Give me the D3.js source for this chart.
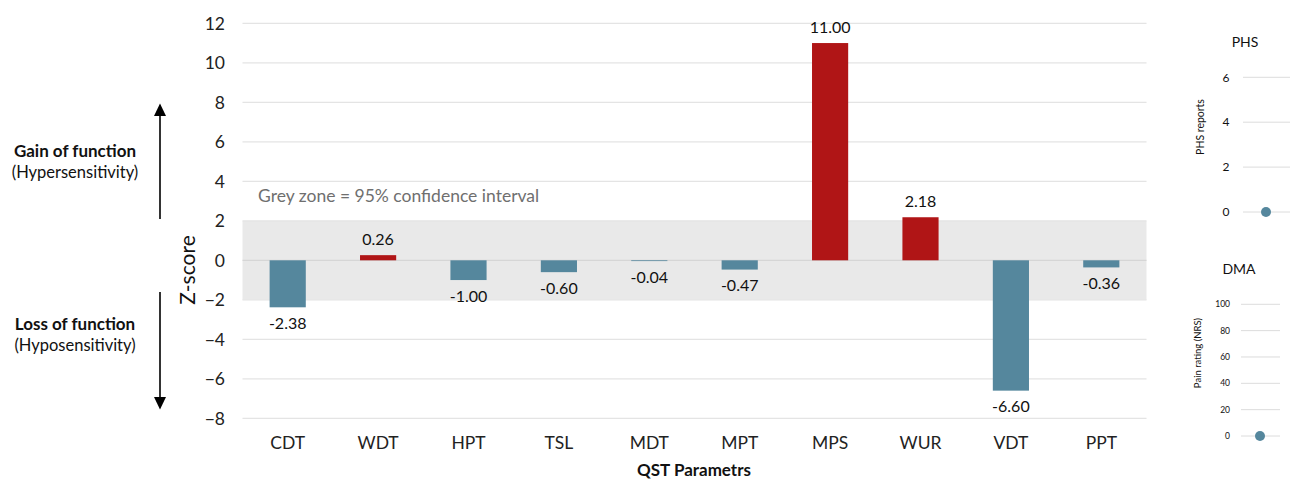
<!DOCTYPE html>
<html>
<head>
<meta charset="utf-8">
<script src="https://cdn.jsdelivr.net/npm/d3@7"></script>
<style>
  html, body { margin: 0; padding: 0; background: #fff; }
  svg { display: block; }
  text { font-family: Lato, "Open Sans", sans-serif; }
</style>
</head>
<body>
<svg id="chart" width="1295" height="483"></svg>
<script>
// QST z-scores per parameter
const categories = ["CDT", "WDT", "HPT", "TSL", "MDT", "MPT", "MPS", "WUR", "VDT", "PPT"];
const zScores = [-2.38, 0.26, -1.00, -0.60, -0.04, -0.47, 11.00, 2.18, -6.60, -0.36];
const yTicks = [-8, -6, -4, -2, 0, 2, 4, 6, 8, 10, 12];
const confidenceBand = [-2, 2];

// Side panels
const phsTicks = [0, 2, 4, 6];
const phsValue = [0];
const dmaTicks = [0, 20, 40, 60, 80, 100];
const dmaValue = [0];

const svg = d3.select("#chart");
const BLUE = "#55879d", RED = "#b01516", GRID = "#e4e4e4";

// ---------- main bar chart ----------
const x = d3.scaleBand().domain(categories).range([242.5, 1146.5]).paddingInner(0.6).paddingOuter(0.3);
const y = d3.scaleLinear().domain([-8, 12]).range([418.3, 23.3]);

const main = svg.append("g");

// 95% confidence zone
main.append("rect")
  .attr("x", 242.5).attr("width", 904)
  .attr("y", y(confidenceBand[1])).attr("height", y(confidenceBand[0]) - y(confidenceBand[1]))
  .attr("fill", "#e9e9e9");

// gridlines
main.append("g").selectAll("line").data(yTicks).join("line")
  .attr("x1", 242.5).attr("x2", 1146.5)
  .attr("y1", d => y(d)).attr("y2", d => y(d))
  .attr("stroke", d => d === 0 ? "#d6d6d6" : GRID).attr("stroke-width", 1.3);

// y axis labels
const yAxis = d3.axisLeft(y).tickValues(yTicks).tickSize(0).tickPadding(0).tickFormat(d3.format("d"));
main.append("g").attr("transform", "translate(225,0)").call(yAxis)
  .call(g => g.select(".domain").remove())
  .call(g => g.selectAll("text").attr("font-size", 17.5).attr("fill", "#222")
    .attr("font-family", "Lato, sans-serif").attr("dy", "0.35em"));

// x axis labels
const xAxis = d3.axisBottom(x).tickSize(0).tickPadding(0);
main.append("g").attr("transform", "translate(0,433)").call(xAxis)
  .call(g => g.select(".domain").remove())
  .call(g => g.selectAll("text").attr("font-size", 17.5).attr("fill", "#222")
    .attr("font-family", "Lato, sans-serif").attr("dy", "0.9em"));

// bars
main.append("g").selectAll("rect").data(categories).join("rect")
  .attr("x", d => x(d))
  .attr("width", x.bandwidth())
  .attr("y", (d, i) => y(Math.max(0, zScores[i])))
  .attr("height", (d, i) => Math.abs(y(zScores[i]) - y(0)))
  .attr("fill", (d, i) => zScores[i] > 0 ? RED : BLUE);

// value labels
main.append("g").selectAll("text").data(categories).join("text")
  .attr("x", d => x(d) + x.bandwidth() / 2)
  .attr("y", (d, i) => zScores[i] >= 0 ? y(zScores[i]) - 16 : y(zScores[i]) + 16)
  .attr("dy", "0.35em")
  .attr("text-anchor", "middle")
  .attr("font-size", 16).attr("fill", "#111")
  .text((d, i) => zScores[i].toFixed(2));

// grey-zone note
main.append("text").attr("x", 258).attr("y", 196).attr("dy", "0.35em")
  .attr("font-size", 17.5).attr("fill", "#6f6f6f")
  .text("Grey zone = 95% confidence interval");

// axis titles
main.append("text").attr("transform", "translate(188,270) rotate(-90)")
  .attr("text-anchor", "middle").attr("dy", "0.35em")
  .attr("font-size", 21).attr("fill", "#111").text("Z-score");
main.append("text").attr("x", 694).attr("y", 470).attr("dy", "0.35em")
  .attr("text-anchor", "middle").attr("font-size", 17).attr("font-weight", "bold")
  .attr("fill", "#111").text("QST Parametrs");

// ---------- gain / loss annotations ----------
const ann = svg.append("g");
// up arrow
ann.append("line").attr("x1", 160).attr("x2", 160).attr("y1", 219).attr("y2", 114)
  .attr("stroke", "#000").attr("stroke-width", 1.6);
ann.append("path").attr("d", "M160,103.5 L166,116 L154,116 Z").attr("fill", "#000");
// down arrow
ann.append("line").attr("x1", 160).attr("x2", 160).attr("y1", 292).attr("y2", 399)
  .attr("stroke", "#000").attr("stroke-width", 1.6);
ann.append("path").attr("d", "M160,409.5 L166,397 L154,397 Z").attr("fill", "#000");

ann.append("text").attr("x", 75).attr("y", 151).attr("dy", "0.35em").attr("text-anchor", "middle")
  .attr("font-size", 17).attr("font-weight", "bold").attr("fill", "#111").text("Gain of function");
ann.append("text").attr("x", 75).attr("y", 172).attr("dy", "0.35em").attr("text-anchor", "middle")
  .attr("font-size", 16.5).attr("fill", "#111").text("(Hypersensitivity)");
ann.append("text").attr("x", 75).attr("y", 324).attr("dy", "0.35em").attr("text-anchor", "middle")
  .attr("font-size", 17).attr("font-weight", "bold").attr("fill", "#111").text("Loss of function");
ann.append("text").attr("x", 75).attr("y", 345).attr("dy", "0.35em").attr("text-anchor", "middle")
  .attr("font-size", 16.5).attr("fill", "#111").text("(Hyposensitivity)");

// ---------- PHS panel ----------
const yPhs = d3.scaleLinear().domain([0, 6]).range([212, 77.3]);
const phs = svg.append("g");
phs.append("text").attr("x", 1245).attr("y", 42).attr("dy", "0.35em").attr("text-anchor", "middle")
  .attr("font-size", 14).attr("fill", "#111").text("PHS");
phs.selectAll("line").data(phsTicks).join("line")
  .attr("x1", 1243).attr("x2", 1290).attr("y1", d => yPhs(d)).attr("y2", d => yPhs(d))
  .attr("stroke", "#dcdcdc").attr("stroke-width", 1);
phs.selectAll("text.tick").data(phsTicks).join("text").attr("class", "tick")
  .attr("x", 1226).attr("y", d => yPhs(d)).attr("dy", "0.35em").attr("text-anchor", "middle")
  .attr("font-size", 12).attr("fill", "#111").text(d => d);
phs.append("text").attr("transform", "translate(1200,127) rotate(-90)")
  .attr("text-anchor", "middle").attr("dy", "0.35em")
  .attr("font-size", 10.5).attr("fill", "#111").text("PHS reports");
phs.selectAll("circle").data(phsValue).join("circle")
  .attr("cx", 1266).attr("cy", d => yPhs(d)).attr("r", 5).attr("fill", BLUE);

// ---------- DMA panel ----------
const yDma = d3.scaleLinear().domain([0, 100]).range([436, 304.3]);
const dma = svg.append("g");
dma.append("text").attr("x", 1239).attr("y", 269).attr("dy", "0.35em").attr("text-anchor", "middle")
  .attr("font-size", 14).attr("fill", "#111").attr("font-family", "'Liberation Sans', Arial, sans-serif").text("DMA");
dma.selectAll("line").data(dmaTicks).join("line")
  .attr("x1", 1241).attr("x2", 1280).attr("y1", d => yDma(d)).attr("y2", d => yDma(d))
  .attr("stroke", "#dcdcdc").attr("stroke-width", 1);
dma.selectAll("text.tick").data(dmaTicks).join("text").attr("class", "tick")
  .attr("x", 1230).attr("y", d => yDma(d)).attr("dy", "0.35em").attr("text-anchor", "end")
  .attr("font-size", 8.5).attr("fill", "#111").attr("font-family", "'Liberation Sans', Arial, sans-serif")
  .text(d => d);
dma.append("text").attr("transform", "translate(1198,353) rotate(-90)")
  .attr("text-anchor", "middle").attr("dy", "0.35em")
  .attr("font-size", 9.5).attr("fill", "#111").attr("font-family", "'Liberation Sans', Arial, sans-serif")
  .text("Pain rating (NRS)");
dma.selectAll("circle").data(dmaValue).join("circle")
  .attr("cx", 1260).attr("cy", d => yDma(d)).attr("r", 5).attr("fill", BLUE);
</script>
</body>
</html>
